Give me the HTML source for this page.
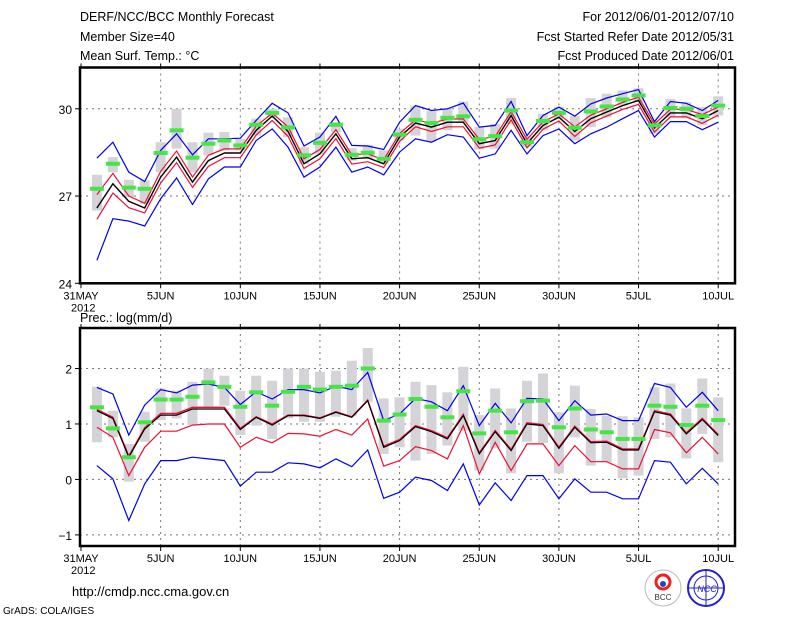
<!DOCTYPE html>
<html><head><meta charset="utf-8"><style>
body{margin:0;background:#fff}
svg{display:block;font-family:"Liberation Sans",sans-serif}
</style></head><body>
<svg id="chart" width="800" height="618" viewBox="0 0 800 618">
<g font-size="12.5" fill="#000">
<text x="80" y="21">DERF/NCC/BCC Monthly Forecast</text>
<text x="80" y="41">Member Size=40</text>
<text x="80" y="60">Mean Surf. Temp.: °C</text>
<text x="734" y="21" text-anchor="end">For 2012/06/01-2012/07/10</text>
<text x="734" y="41" text-anchor="end">Fcst Started Refer Date 2012/05/31</text>
<text x="734" y="60" text-anchor="end">Fcst Produced Date 2012/06/01</text>
</g>
<text x="80" y="322" font-size="12.5">Prec.: log(mm/d)</text>
<g id="top"></g>
<g id="bot"></g>
<text x="72" y="596" font-size="13">http://cmdp.ncc.cma.gov.cn</text>
<text x="3" y="614" font-size="10">GrADS: COLA/IGES</text>
<g><circle cx="663" cy="588" r="18" fill="#fff" stroke="#bbb"/><circle cx="663" cy="582" r="7" fill="none" stroke="#e22" stroke-width="3"/><circle cx="663" cy="584" r="3" fill="#24c"/><text x="663" y="600" font-size="8" text-anchor="middle" fill="#333">BCC</text></g>
<g><circle cx="706" cy="588" r="18" fill="#fff" stroke="#22c" stroke-width="2"/><circle cx="706" cy="588" r="12" fill="none" stroke="#22c"/><line x1="688" y1="588" x2="724" y2="588" stroke="#22c"/><line x1="706" y1="570" x2="706" y2="606" stroke="#22c"/><text x="707" y="592" font-size="9" text-anchor="middle" fill="#22c" font-style="italic">NCC</text></g>
</svg>
<script>
const days=["1JUN","2","3","4","5","6","7","8","9","10","11","12","13","14","15","16","17","18","19","20","21","22","23","24","25","26","27","28","29","30","1JUL","2","3","4","5","6","7","8","9","10"];
const xTickLabels=["31MAY","5JUN","10JUN","15JUN","20JUN","25JUN","30JUN","5JUL","10JUL"];
const tTicks=[24,27,30];
const pTicks=[-1,0,1,2];
// Temperature
const tMean=[26.59,27.42,26.82,26.59,27.65,28.34,27.48,28.22,28.48,28.48,29.26,29.75,29.22,28.11,28.45,29.14,28.28,28.32,28.11,29.03,29.51,29.37,29.54,29.54,28.8,28.91,29.77,28.8,29.43,29.71,29.22,29.66,29.89,30.11,30.29,29.34,29.86,29.86,29.66,29.94];
const tRedHi=[27.05,27.78,27.0,26.75,27.85,28.55,27.65,28.4,28.62,28.62,29.4,29.85,29.38,28.28,28.6,29.28,28.42,28.45,28.25,29.15,29.62,29.5,29.65,29.65,28.95,29.05,29.9,28.95,29.55,29.82,29.38,29.78,30.0,30.22,30.4,29.48,29.98,29.98,29.8,30.06];
const tRedLo=[26.2,27.1,26.6,26.42,27.45,28.15,27.3,28.02,28.32,28.32,29.1,29.6,29.05,27.95,28.28,28.98,28.1,28.18,27.98,28.88,29.38,29.22,29.38,29.38,28.65,28.76,29.62,28.66,29.3,29.58,29.05,29.52,29.75,29.98,30.15,29.2,29.72,29.72,29.5,29.78];
const tBlueHi=[28.3,28.85,27.82,27.5,28.57,29.14,28.42,28.97,28.97,28.99,29.6,30.19,29.86,28.72,29.03,29.74,28.74,28.72,28.6,29.54,30.11,29.94,30.0,30.2,29.37,29.43,30.25,29.08,29.77,30.06,29.75,30.17,30.37,30.52,30.66,29.56,30.25,30.19,29.94,30.29];
const tBlueLo=[24.79,26.22,26.14,25.97,26.91,27.62,26.71,27.59,28.0,28.0,28.91,29.31,28.68,27.65,28.0,28.68,27.82,28.0,27.73,28.51,28.97,28.85,29.11,29.03,28.3,28.45,29.26,28.45,29.08,29.31,28.8,29.14,29.37,29.66,29.94,29.03,29.56,29.56,29.28,29.54];
const tObs=[27.25,28.11,27.29,27.25,28.48,29.26,28.32,28.8,28.91,28.74,29.45,29.86,29.36,28.4,28.83,29.45,28.42,28.49,28.28,29.11,29.62,29.51,29.69,29.74,28.95,29.06,29.94,28.85,29.58,29.86,29.35,29.91,30.08,30.32,30.46,29.43,30.03,30.0,29.75,30.11];
const tBoxMax=[27.73,28.34,27.56,27.54,28.85,30.0,28.85,29.18,29.2,28.97,29.66,30.0,29.71,28.68,29.18,29.54,28.65,28.76,28.57,29.31,30.11,29.92,30.02,30.25,29.37,29.48,30.37,29.08,29.83,30.06,29.75,30.37,30.52,30.63,30.71,29.6,30.34,30.23,30.06,30.43];
const tBoxMin=[26.5,27.82,26.96,26.74,27.82,28.63,27.82,28.4,28.57,28.57,29.08,29.71,29.03,28.11,28.45,29.2,28.22,28.28,28.11,28.91,29.08,28.88,29.26,29.54,28.6,28.63,29.48,28.68,29.26,29.66,28.91,29.37,29.71,30.11,30.23,29.14,29.71,29.68,29.43,29.77];
// Precipitation
const pMean=[1.24,1.10,0.40,0.91,1.16,1.16,1.27,1.27,1.27,0.90,1.12,0.98,1.15,1.15,1.10,1.21,1.12,1.42,0.58,0.70,0.95,0.86,0.73,1.15,0.46,0.86,0.52,1.0,0.97,0.56,0.94,0.66,0.67,0.53,0.53,1.22,1.16,0.82,1.08,0.79];
const pRedHi=[1.26,1.12,0.42,0.93,1.19,1.19,1.3,1.3,1.3,0.92,1.13,1.0,1.16,1.16,1.11,1.22,1.13,1.43,0.6,0.72,0.97,0.88,0.75,1.17,0.48,0.88,0.54,1.02,0.99,0.58,0.96,0.68,0.69,0.55,0.55,1.24,1.18,0.84,1.1,0.81];
const pRedLo=[0.94,0.76,0.07,0.58,0.87,0.87,0.98,1.0,1.0,0.58,0.76,0.66,0.83,0.82,0.78,0.9,0.8,1.09,0.24,0.34,0.59,0.52,0.37,0.97,0.1,0.67,0.16,0.64,0.64,0.25,0.61,0.32,0.32,0.19,0.19,0.9,0.84,0.48,0.76,0.46];
const pBlueHi=[1.66,1.54,0.8,1.34,1.62,1.56,1.7,1.72,1.66,1.35,1.58,1.45,1.62,1.62,1.56,1.68,1.62,1.93,1.06,1.18,1.46,1.4,1.24,1.69,0.97,1.37,1.02,1.46,1.45,1.06,1.42,1.16,1.18,1.06,1.06,1.73,1.66,1.3,1.57,1.24];
const pBlueLo=[0.25,0.01,-0.74,-0.08,0.34,0.34,0.4,0.37,0.34,-0.12,0.13,0.13,0.3,0.28,0.21,0.37,0.23,0.53,-0.34,-0.23,0.04,-0.02,-0.2,0.28,-0.46,-0.06,-0.38,0.07,0.07,-0.35,0.01,-0.23,-0.23,-0.35,-0.35,0.34,0.31,-0.08,0.2,-0.08];
const pObs=[1.3,0.92,0.4,1.03,1.44,1.44,1.49,1.75,1.67,1.31,1.57,1.33,1.58,1.67,1.62,1.67,1.69,2.0,1.06,1.17,1.45,1.31,1.12,1.59,0.83,1.24,0.85,1.41,1.42,0.94,1.28,0.9,0.85,0.73,0.73,1.33,1.31,0.98,1.33,1.07];
const pBoxMax=[1.67,1.24,0.64,1.22,1.64,1.6,1.76,2.0,1.87,1.6,1.87,1.78,2.0,2.0,1.94,1.96,2.14,2.37,1.46,1.48,1.76,1.7,1.57,2.03,1.16,1.64,1.28,1.78,1.91,1.21,1.69,1.27,1.15,1.14,1.12,1.66,1.73,1.28,1.82,1.48];
const pBoxMin=[0.67,0.76,-0.04,0.68,1.07,1.1,0.98,1.3,1.33,0.8,0.97,0.73,1.1,1.04,1.04,1.13,1.14,1.4,0.46,0.58,0.34,0.46,0.61,0.88,0.16,0.56,0.11,0.68,0.66,0.11,0.76,0.25,0.31,0.02,0.07,0.73,0.76,0.38,0.82,0.31];

const NS="http://www.w3.org/2000/svg";
const X0=81,DX=15.93,XL=80,XR=735;
function xOf(i){return X0+DX*(i+1);}
function mk(tag,attrs,parent){const e=document.createElementNS(NS,tag);for(const k in attrs)e.setAttribute(k,attrs[k]);parent.appendChild(e);return e;}
function panel(g,top,bot,vmin,vmax,ticks,series,boxMin,boxMax,obs,tickFmt,prefix){
  const yOf=v=>bot-(v-vmin)/(vmax-vmin)*(bot-top);
  for(let k=0;k<xTickLabels.length;k++){
    const x=X0+DX*5*k;
    if(k>0){const l=mk('line',{x1:x,x2:x,y1:top,y2:bot,stroke:'#777','stroke-dasharray':'2,4'},g);
    
    }
    const t=mk('line',{x1:x,x2:x,y1:bot,y2:bot+5,stroke:'#000'},g);
    
    
    const tt=mk('line',{x1:x,x2:x,y1:top,y2:top-4,stroke:'#000'},g);
    
    
    const lb=mk('text',{x:x,y:bot+16,'font-size':'11','text-anchor':'middle'},g);
    lb.textContent=xTickLabels[k];
    
    
  }
  const yr=mk('text',{x:X0-10,y:bot+28,'font-size':'11'},g);yr.textContent='2012';
  
  
  for(const v of ticks){
    const y=yOf(v);
    if(v>vmin){const l=mk('line',{x1:XL,x2:XR,y1:y,y2:y,stroke:'#777','stroke-dasharray':'2,4'},g);
    
    }
    const t=mk('line',{x1:XL-5,x2:XL,y1:y,y2:y,stroke:'#000'},g);
    
    
    const lb=mk('text',{x:XL-8,y:y+5,'font-size':'12','text-anchor':'end'},g);lb.textContent=tickFmt(v);
    
    
  }
  for(let i=0;i<days.length;i++){
    const x=xOf(i);
    const r=mk('rect',{x:x-5,y:yOf(boxMax[i]),width:10,height:Math.max(1,yOf(boxMin[i])-yOf(boxMax[i])),fill:'#d3d3d8'},g);
    
    
  }
  for(const s of series){
    const pts=s.d.map((v,i)=>xOf(i).toFixed(1)+','+yOf(v).toFixed(1)).join(' ');
    const p=mk('polyline',{points:pts,fill:'none',stroke:s.c,'stroke-width':s.w},g);
    
    
  }
  for(let i=0;i<days.length;i++){
    const x=xOf(i);
    const r=mk('rect',{x:x-7,y:yOf(obs[i])-2,width:14,height:4,fill:'#44e544'},g);
    
    
  }
  const f=mk('rect',{x:XL,y:top,width:XR-XL,height:bot-top,fill:'none',stroke:'#000','stroke-width':2.5},g);
  
  
}
panel(document.getElementById('top'),67.5,283.3,24,31.42,tTicks,[
 {d:tBlueHi,c:'#0000ee',w:1.2,n:'blue-upper'},{d:tBlueLo,c:'#0000ee',w:1.2,n:'blue-lower'},
 {d:tRedHi,c:'#ee1133',w:1.2,n:'red-upper'},{d:tRedLo,c:'#ee1133',w:1.2,n:'red-lower'},
 {d:tMean,c:'#000',w:1.4,n:'mean-line'}],tBoxMin,tBoxMax,tObs,v=>String(v),'temp');
panel(document.getElementById('bot'),328,546,-1.2,2.73,pTicks,[
 {d:pBlueHi,c:'#0000ee',w:1.2,n:'blue-upper'},{d:pBlueLo,c:'#0000ee',w:1.2,n:'blue-lower'},
 {d:pRedHi,c:'#ee1133',w:1.4,n:'red-upper'},{d:pRedLo,c:'#ee1133',w:1.2,n:'red-lower'},
 {d:pMean,c:'#000',w:1.2,n:'mean-line'}],pBoxMin,pBoxMax,pObs,v=>v<0?'\u2212'+Math.abs(v):String(v),'prec');
</script>
</body></html>
